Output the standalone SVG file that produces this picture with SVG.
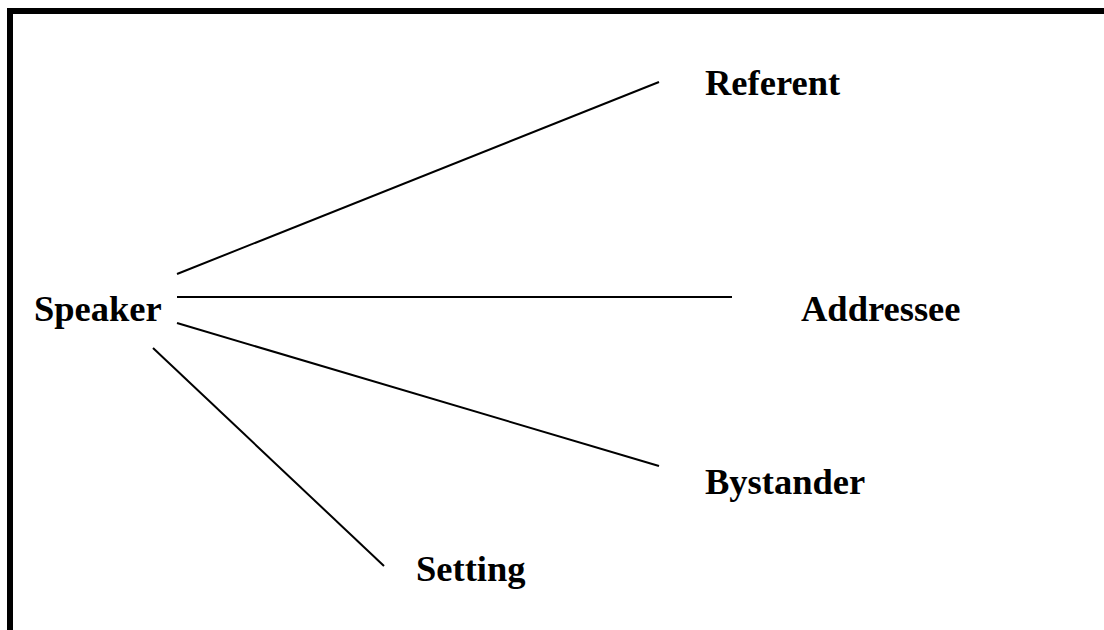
<svg xmlns="http://www.w3.org/2000/svg" width="1104" height="630" viewBox="0 0 1104 630">
<style>
.lbl{font-family:"Liberation Serif","Times New Roman",serif;font-weight:bold;font-size:36.5px;fill:#000}
.conn line{stroke:#000;stroke-width:2}
</style>
<rect x="0" y="0" width="1104" height="630" fill="#fff"/>
<rect x="10" y="11" width="1200" height="700" fill="none" stroke="#000" stroke-width="6"/>
<g class="conn" id="connectors">
<line x1="177" y1="274" x2="659" y2="82"/>
<line x1="177" y1="297" x2="732" y2="297"/>
<line x1="177" y1="323" x2="659" y2="466"/>
<line x1="153" y1="348" x2="384" y2="566"/>
</g>
<g id="speaker"><text class="lbl" x="34" y="321">Speaker</text></g>
<g id="referent"><text class="lbl" x="705" y="95">Referent</text></g>
<g id="addressee"><text class="lbl" x="801" y="321">Addressee</text></g>
<g id="bystander"><text class="lbl" x="705" y="494">Bystander</text></g>
<g id="setting"><text class="lbl" x="416" y="581">Setting</text></g>
</svg>
